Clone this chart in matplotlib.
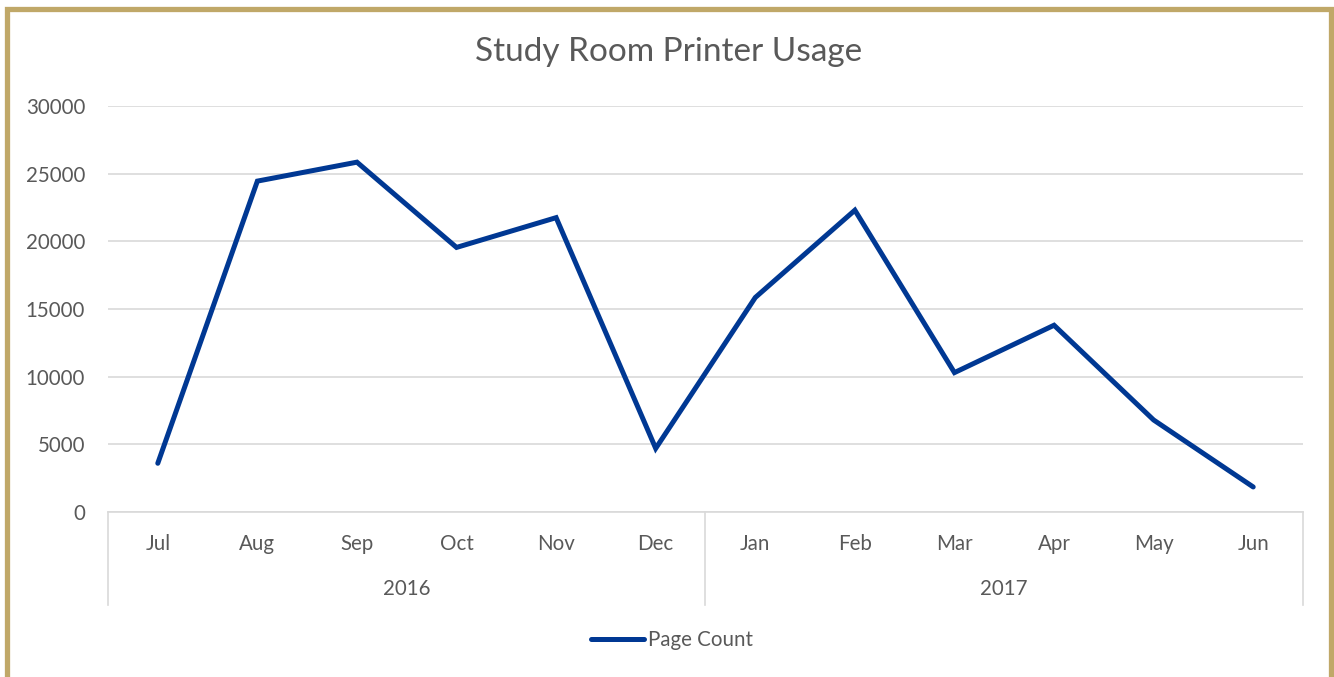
import matplotlib
matplotlib.use("Agg")
import matplotlib.pyplot as plt
from matplotlib.patches import Rectangle
from matplotlib.lines import Line2D
import matplotlib.transforms as mtransforms

months = ["Jul", "Aug", "Sep", "Oct", "Nov", "Dec", "Jan", "Feb", "Mar", "Apr", "May", "Jun"]
years = ["2016", "2017"]
year_sizes = [6, 6]
page_count = [3600, 24450, 25850, 19550, 21750, 4700, 15850, 22300, 10300, 13800, 6800, 1850]
yticks = [0, 5000, 10000, 15000, 20000, 25000, 30000]

W, H = 1334, 677
FS = 14.8
plt.rcParams['font.family'] = ['Lato', 'DejaVu Sans']
fig = plt.figure(figsize=(W / 100, H / 100), dpi=100)
fig.patch.set_facecolor("white")

ax = fig.add_axes([108 / W, 1 - 512 / H, (1303 - 108) / W, (512 - 106) / H])
x = list(range(len(months)))
line, = ax.plot(x, page_count, color="#003893", lw=3.6, solid_joinstyle="miter",
                solid_capstyle="round", label="Page Count", zorder=3)
ax.set_xlim(-0.5, len(months) - 0.5)
ax.set_ylim(0, 30000)
ax.set_yticks(yticks)
ax.set_yticklabels([str(v) for v in yticks])
ax.grid(axis="y", color="#D9D9D9", lw=1.2)
ax.set_axisbelow(True)
for s in ["top", "right", "left"]:
    ax.spines[s].set_visible(False)
ax.spines["bottom"].set_color("#D9D9D9")
ax.spines["bottom"].set_linewidth(1.2)
ax.tick_params(axis="y", length=0, pad=16.5, labelsize=FS, labelcolor="#595959")
ax.set_xticks([])

trans = mtransforms.blended_transform_factory(ax.transData, fig.transFigure)
for i, m in enumerate(months):
    ax.text(i, 1 - 544 / H, m, transform=trans, ha="center", va="center",
            fontsize=FS, color="#595959")
start = 0
bounds = [-0.5]
for yname, n in zip(years, year_sizes):
    center = start + (n - 1) / 2
    ax.text(center, 1 - 589 / H, yname, transform=trans, ha="center", va="center",
            fontsize=FS, color="#595959")
    start += n
    bounds.append(start - 0.5)
for b in bounds:
    ax.add_line(Line2D([b, b], [1 - 512 / H, 1 - 605 / H], transform=trans,
                       color="#D9D9D9", lw=1.2, clip_on=False))

fig.text(669 / W, 1 - 52 / H, "Study Room Printer Usage", ha="center", va="center",
         fontsize=24, color="#595959")

leg = fig.legend(handles=[line], loc="center", bbox_to_anchor=(672 / W, 1 - 640 / H),
                 frameon=False, fontsize=FS, handlelength=2.6, handletextpad=0.2,
                 labelcolor="#595959")

fig.patches.append(Rectangle((7 / W, -0.01), (1331 - 7) / W, 1 - 9 / H + 0.01,
                             transform=fig.transFigure, fill=False,
                             edgecolor="#C0A868", lw=3.8, zorder=10))

fig.savefig("out.png", dpi=100, facecolor="white")
